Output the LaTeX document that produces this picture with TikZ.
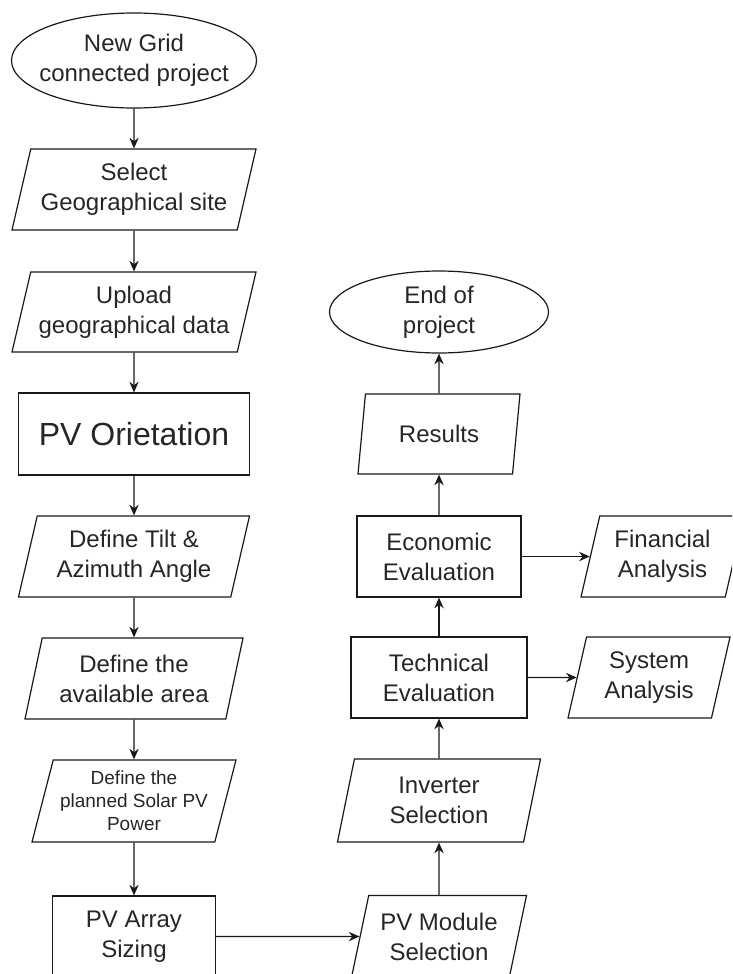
\documentclass[tikz,border=0pt]{standalone}
\usepackage{fontspec}
\setmainfont{Liberation Sans}
\usetikzlibrary{shapes.geometric,arrows.meta}
\definecolor{lnclr}{rgb}{0.1,0.1,0.1}
\definecolor{txclr}{rgb}{0.15,0.15,0.15}
\begin{document}
\begin{tikzpicture}[x=0.75pt,y=-0.75pt,
  every node/.style={font=\fontsize{18}{22.5}\selectfont, text=txclr, align=center},
  proc/.style={draw=lnclr, line width=0.9pt, rectangle, inner sep=2pt},
  io/.style={draw=lnclr, line width=0.9pt, trapezium, trapezium left angle=72, trapezium right angle=108, trapezium stretches body, inner sep=2pt},
  term/.style={draw=lnclr, line width=0.9pt, ellipse, inner xsep=-8pt, inner ysep=0pt},
  flow/.style={draw=lnclr, line width=1pt, -{Stealth[length=8pt,width=7pt]}}]
\useasboundingbox (0,0) rectangle (732,974);
\clip (0,0) rectangle (732,974);
% left column
\node [term, minimum width=183.75pt, minimum height=71.25pt] (start) at (134,60.5) {New Grid\\connected project};
\node [io, minimum width=183pt, minimum height=60.75pt] (site) at (134,189.5) {Select\\Geographical site};
\node [io, minimum width=183pt, minimum height=60pt] (upload) at (134,312) {Upload\\geographical data};
\node [proc, minimum width=173.25pt, minimum height=61.5pt, font=\fontsize{24}{28}\selectfont] (orient) at (134,434) {PV Orietation};
\node [io, minimum width=173.25pt, minimum height=60.75pt] (tilt) at (134,556.5) {Define Tilt \&\\Azimuth Angle};
\node [io, minimum width=163.5pt, minimum height=60.75pt] (area) at (134,678.5) {Define the\\available area};
\node [io, minimum width=153pt, minimum height=61.5pt, font=\fontsize{14.25}{17.25}\selectfont] (power) at (134,801) {Define the\\planned Solar PV\\Power};
\node [proc, minimum width=122.25pt, minimum height=60.75pt] (array) at (134,936.5) {PV Array\\Sizing};
% right column
\node [io, minimum width=131.25pt, minimum height=61.5pt] (module) at (439,936.5) {PV Module\\Selection};
\node [io, minimum width=152.25pt, minimum height=62.25pt] (inverter) at (439,800.5) {Inverter\\Selection};
\node [proc, minimum width=132pt, minimum height=60.75pt] (tech) at (439,677.5) {Technical\\Evaluation};
\node [io, minimum width=121.5pt, minimum height=60.75pt] (system) at (649,677.5) {System\\Analysis};
\node [proc, minimum width=123pt, minimum height=60.75pt] (econ) at (439,556.5) {Economic\\Evaluation};
\node [io, minimum width=122.25pt, minimum height=60.75pt] (finance) at (662.5,556.5) {Financial\\Analysis};
\node [io, minimum width=121.5pt, minimum height=60pt] (results) at (439,434) {Results};
\node [term, minimum width=164.25pt, minimum height=61.5pt] (finish) at (439,312) {End of\\project};
% connectors
\draw [flow] (start) -- (site);
\draw [flow] (site) -- (upload);
\draw [flow] (upload) -- (orient);
\draw [flow] (orient) -- (tilt);
\draw [flow] (tilt) -- (area);
\draw [flow] (area) -- (power);
\draw [flow] (power) -- (array);
\draw [flow] (array) -- (module);
\draw [flow] (module) -- (inverter);
\draw [flow] (inverter) -- (tech);
\draw [flow] (tech) -- (system);
\draw [flow] (tech) -- (econ);
\draw [flow] (econ) -- (finance);
\draw [flow] (econ) -- (results);
\draw [flow] (results) -- (finish);
\end{tikzpicture}
\end{document}
